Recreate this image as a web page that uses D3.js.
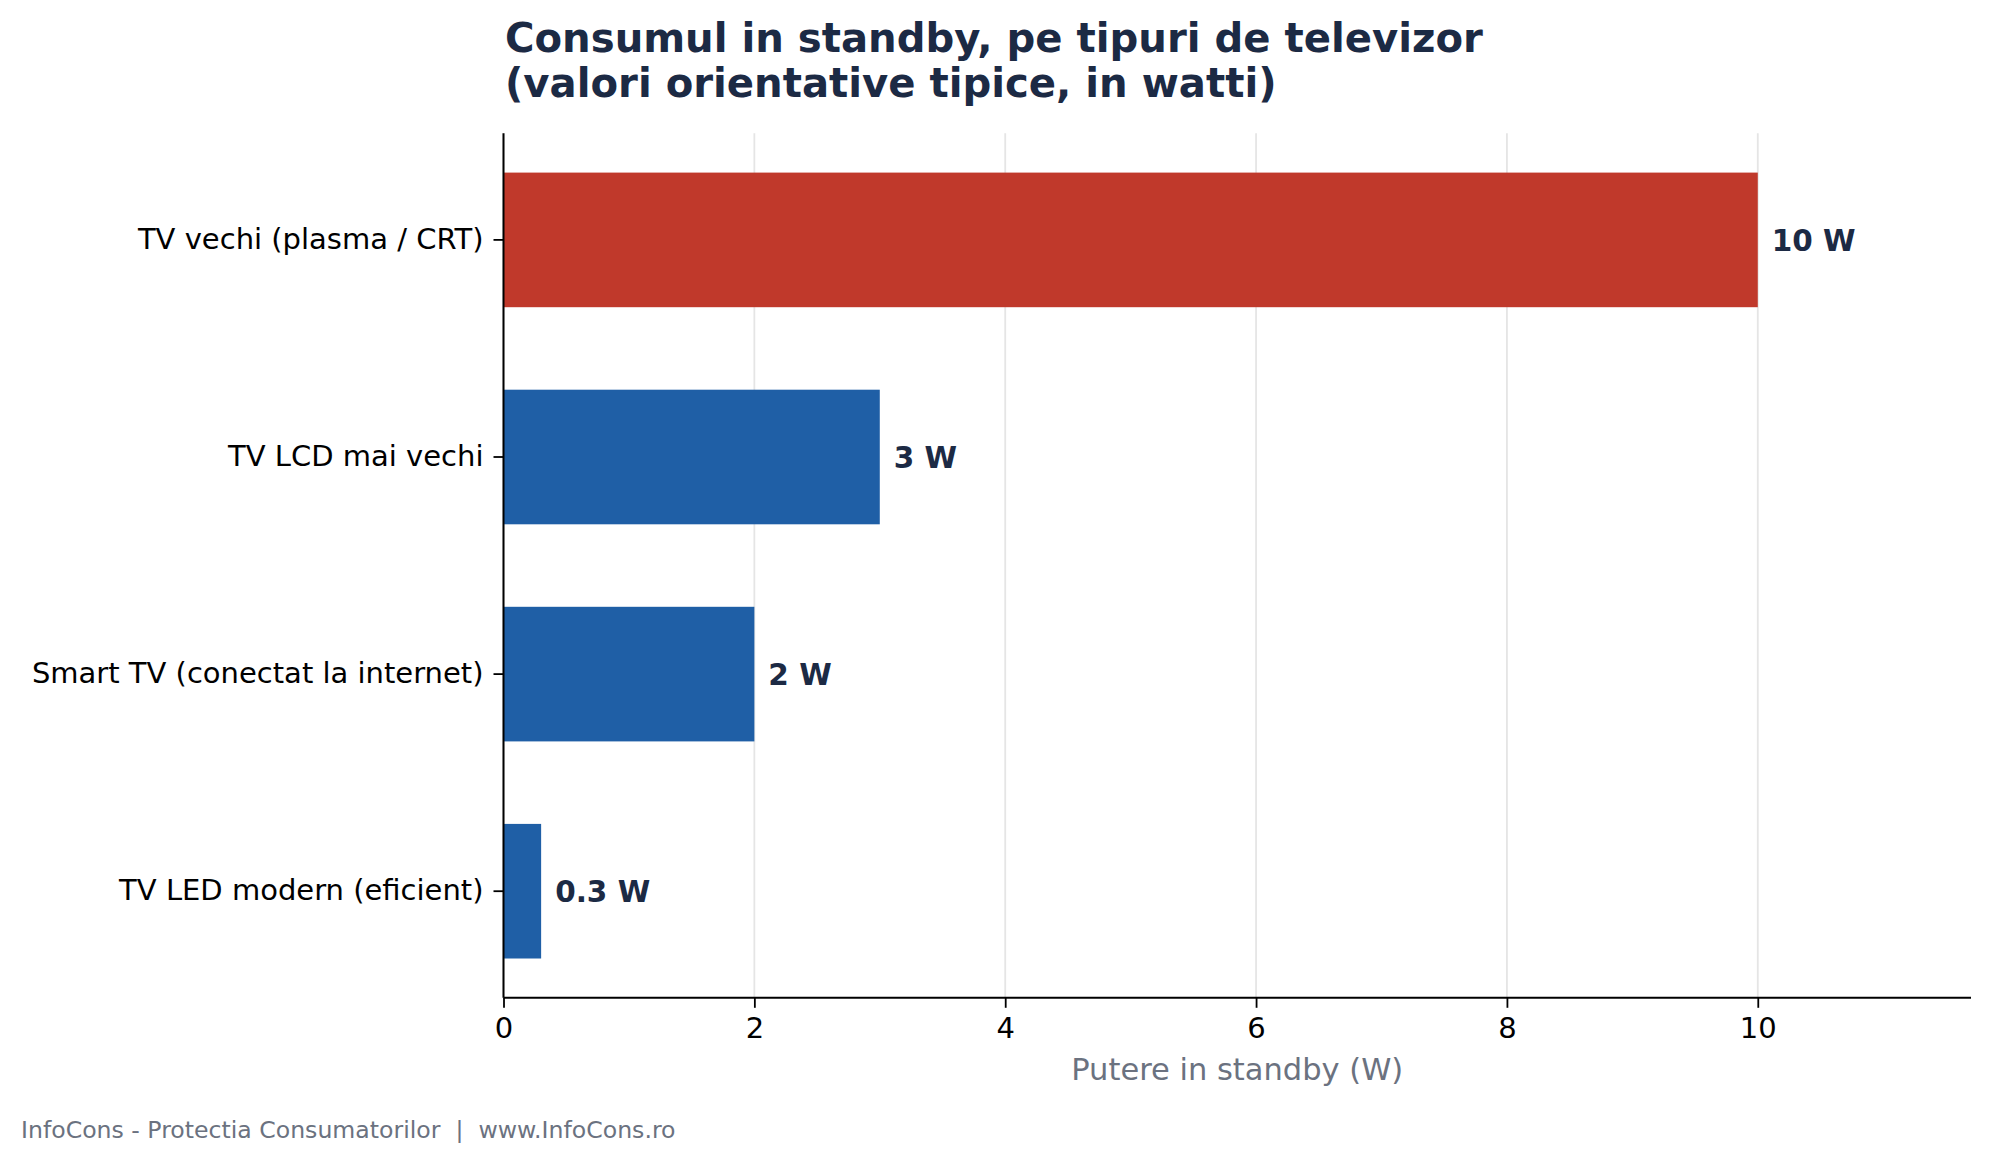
<!DOCTYPE html>
<html>
<head>
<meta charset="utf-8">
<script src="https://cdn.jsdelivr.net/npm/d3@7"></script>
<style>
  html, body { margin: 0; padding: 0; background: #fff; }
  svg { display: block; font-family: "DejaVu Sans", sans-serif; }
</style>
</head>
<body>
<svg id="chart" width="1989" height="1164"></svg>
<script>
// ---- Date
const categorii = [
    'TV vechi (plasma / CRT)',
    'TV LCD mai vechi',
    'Smart TV (conectat la internet)',
    'TV LED modern (eficient)'
];
const valori = [10, 3, 2, 0.3];
const etichete = ['10 W', '3 W', '2 W', '0.3 W'];
const evidentiat = [true, false, false, false];
const xTicks = [0, 2, 4, 6, 8, 10];
const xMax = 11.7;

const titlu = ['Consumul in standby, pe tipuri de televizor', '(valori orientative tipice, in watti)'];
const axaX = 'Putere in standby (W)';
const subsol = 'InfoCons - Protectia Consumatorilor  |  www.InfoCons.ro';

const margens = { left: 503.5, right: 18, top: 133.3, bottom: 166.2 };

const svg = d3.select('#chart');
const W = +svg.attr('width');
const H = +svg.attr('height');
const innerWidth = W - margens.left - margens.right;
const innerHeight = H - margens.top - margens.bottom;

const g = svg.append('g')
    .attr('transform', `translate(${margens.left}, ${margens.top})`);

// ---- Scale
const mapX = d3.scaleLinear().domain([0, xMax]).range([0, innerWidth]);
const mapY = d3.scaleBand()
    .domain(categorii)
    .range([0, innerHeight])
    .paddingInner(0.38)
    .paddingOuter(0.181);

// ---- Grid vertical
g.append('g')
    .selectAll('line')
    .data(xTicks)
    .join('line')
    .attr('x1', d => mapX(d))
    .attr('x2', d => mapX(d))
    .attr('y1', 0)
    .attr('y2', innerHeight)
    .attr('stroke', '#e5e5e5')
    .attr('stroke-width', 1.8);

// ---- Bare
g.append('g')
    .selectAll('rect')
    .data(valori)
    .join('rect')
    .attr('x', mapX(0))
    .attr('y', (d, i) => mapY(categorii[i]))
    .attr('width', d => mapX(d) - mapX(0))
    .attr('height', mapY.bandwidth())
    .attr('fill', (d, i) => evidentiat[i] ? '#c0392b' : '#1f5fa6');

// ---- Etichete valori
g.append('g')
    .selectAll('text')
    .data(valori)
    .join('text')
    .attr('x', d => mapX(d) + 14)
    .attr('y', (d, i) => mapY(categorii[i]) + mapY.bandwidth() / 2)
    .attr('dy', '0.36em')
    .attr('font-size', 29.5)
    .attr('font-weight', 'bold')
    .attr('fill', '#1c2a44')
    .text((d, i) => etichete[i]);

// ---- Axe
const xAxis = d3.axisBottom(mapX).tickValues(xTicks).tickSize(10).tickPadding(10).tickFormat(d3.format('d'));
const gx = g.append('g')
    .attr('transform', `translate(0, ${innerHeight})`)
    .call(xAxis);
gx.select('.domain').attr('d', `M0,0H${innerWidth}`).attr('stroke', '#000').attr('stroke-width', 2);
gx.selectAll('.tick line').attr('stroke', '#000').attr('stroke-width', 1.8);
gx.selectAll('.tick text').attr('font-size', 29).attr('font-family', '"DejaVu Sans", sans-serif').attr('fill', '#000');

const yAxis = d3.axisLeft(mapY).tickSize(10).tickPadding(10);
const gy = g.append('g').call(yAxis);
gy.select('.domain').attr('d', `M0,0V${innerHeight}`).attr('stroke', '#000').attr('stroke-width', 2);
gy.selectAll('.tick line').attr('stroke', '#000').attr('stroke-width', 1.8);
gy.selectAll('.tick text').attr('font-size', 29).attr('font-family', '"DejaVu Sans", sans-serif').attr('fill', '#000');

// ---- Titlu axa X
g.append('text')
    .attr('x', innerWidth / 2)
    .attr('y', innerHeight + 82)
    .attr('text-anchor', 'middle')
    .attr('font-size', 30.5)
    .attr('fill', '#6b7280')
    .text(axaX);

// ---- Titlu
svg.append('text')
    .attr('x', 505)
    .attr('font-size', 40.2)
    .attr('font-weight', 'bold')
    .attr('fill', '#1c2a44')
    .selectAll('tspan')
    .data(titlu)
    .join('tspan')
    .attr('x', 505)
    .attr('y', (d, i) => 52 + i * 45)
    .text(d => d);

// ---- Subsol
svg.append('text')
    .attr('x', 21)
    .attr('y', 1138)
    .attr('font-size', 23.6)
    .attr('fill', '#6b7280')
    .style('white-space', 'pre')
    .text(subsol);
</script>
</body>
</html>
